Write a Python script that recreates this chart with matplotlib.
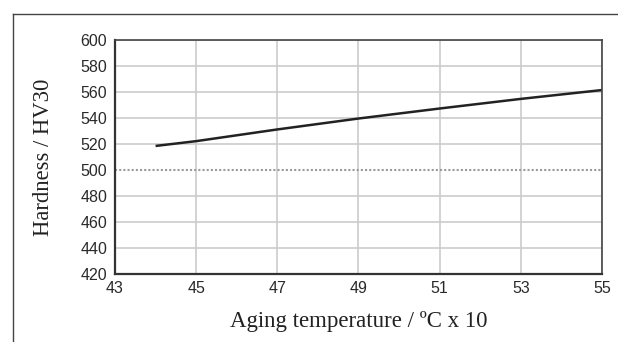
import matplotlib
matplotlib.use("Agg")
import matplotlib.pyplot as plt
from matplotlib.lines import Line2D

# Data
temperature = [44, 45, 47, 49, 51, 53, 55]
hardness = [518.5, 522.2, 531.2, 539.6, 547.3, 554.7, 561.5]
x_ticks = [43, 45, 47, 49, 51, 53, 55]
y_ticks = [420, 440, 460, 480, 500, 520, 540, 560, 580, 600]

W, H = 618, 342
fig = plt.figure(figsize=(W / 100, H / 100), dpi=100)
fig.patch.set_facecolor("white")

# outer frame (top and left lines)
fig.add_artist(Line2D([13 / W, 1.0], [1 - 14 / H, 1 - 14 / H], transform=fig.transFigure,
                      color="#444444", lw=1.0))
fig.add_artist(Line2D([13 / W, 13 / W], [0, 1 - 14 / H], transform=fig.transFigure,
                      color="#444444", lw=1.0))

ax = fig.add_axes([115 / W, 1 - 274 / H, 487 / W, 234 / H])
ax.plot(temperature, hardness, color="#222222", lw=1.8, solid_capstyle="butt")

ax.set_xlim(43, 55)
ax.set_ylim(420, 600)
ax.set_xticks(x_ticks)
ax.set_yticks(y_ticks)
ax.set_xticklabels([str(t) for t in x_ticks])
ax.set_yticklabels([str(t) for t in y_ticks])

ax.grid(True, color="#cccccc", lw=1.2)
for gl in ax.get_ygridlines():
    if abs(gl.get_ydata()[0] - 500) < 1e-6:
        gl.set_color("#9a9a9a")
        gl.set_linewidth(1.5)
        gl.set_linestyle((0, (1, 1)))
ax.set_axisbelow(True)

for side in ["left", "bottom"]:
    ax.spines[side].set_linewidth(1.6)
    ax.spines[side].set_color("#333333")
for side in ["top", "right"]:
    ax.spines[side].set_linewidth(1.2)
    ax.spines[side].set_color("#444444")

ax.tick_params(axis="both", length=0, labelsize=11.5, labelcolor="#2a2a2a")
ax.tick_params(axis="y", pad=5.5)
ax.tick_params(axis="x", pad=5)
for lab in ax.get_xticklabels() + ax.get_yticklabels():
    lab.set_fontfamily("Liberation Sans")

ax.set_xlabel("Aging temperature / ºC x 10", fontfamily="Liberation Serif",
              fontsize=16.5, color="#222222", labelpad=11)
ax.set_ylabel("Hardness / HV30", fontfamily="Liberation Serif",
              fontsize=16.3, color="#222222", labelpad=19)

fig.savefig("out.png", dpi=100)
